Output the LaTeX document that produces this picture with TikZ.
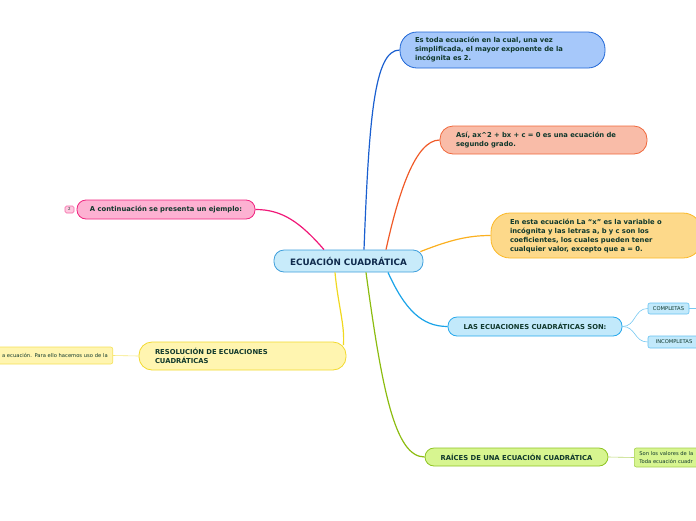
\documentclass[tikz,border=0pt]{standalone}
\usepackage{fontspec}
\setmainfont{DejaVu Sans}
\usetikzlibrary{calc}
\definecolor{txt}{HTML}{10382C}
\definecolor{ctxt}{HTML}{0F2A4C}
\definecolor{cfill}{HTML}{C8EBFA}\definecolor{cdraw}{HTML}{3F9FDC}
\definecolor{bfill}{HTML}{A6C8FA}\definecolor{bdraw}{HTML}{1F66D6}\definecolor{bline}{HTML}{1A5FD0}
\definecolor{sfill}{HTML}{F9BCA8}\definecolor{sdraw}{HTML}{F0683C}\definecolor{sline}{HTML}{F05A28}
\definecolor{ofill}{HTML}{FDD98A}\definecolor{odraw}{HTML}{FBB826}\definecolor{oline}{HTML}{FBB020}
\definecolor{lfill}{HTML}{C2E9FB}\definecolor{ldraw}{HTML}{25A8EC}\definecolor{lline}{HTML}{1AA3E8}
\definecolor{gfill}{HTML}{D7F590}\definecolor{gdraw}{HTML}{8EC422}\definecolor{gline}{HTML}{8CBC10}
\definecolor{yfill}{HTML}{FFF5B0}\definecolor{ydraw}{HTML}{F2D92E}\definecolor{yline}{HTML}{F0D820}
\definecolor{pfill}{HTML}{FDB1D2}\definecolor{pdraw}{HTML}{F0247F}\definecolor{pline}{HTML}{F01878}
\begin{document}
\begin{tikzpicture}[x=1pt,y=-1pt,
  box/.style={draw, line width=0.8pt, inner sep=0pt, text=txt,
    font=\bfseries\fontsize{6.8}{9}\selectfont},
  leftbox/.style={box, align=left},
  centbox/.style={box, align=center},
  small/.style={draw, line width=0.6pt, inner sep=0pt, text=txt, rounded corners=2pt,
    font=\fontsize{5.2}{7.5}\selectfont},
  branch/.style={line width=1.2pt},
  twig/.style={line width=0.6pt}
]
\useasboundingbox (0,0) rectangle (696,520);
\clip (0,0) rectangle (696,520);

% central
\node[centbox, fill=cfill, draw=cdraw, text=ctxt, rounded corners=10pt,
  minimum width=149pt, minimum height=22pt, font=\bfseries\fontsize{8.8}{10}\selectfont]
  (c) at (348.5,261) {ECUACIÓN CUADRÁTICA};

% branches
\node[leftbox, fill=bfill, draw=bdraw, rounded corners=17pt, inner xsep=15pt,
  text width=175pt, minimum height=36pt] (b) at (502.5,50)
  {Es toda ecuación en la cual, una vez\\simplificada, el mayor exponente de la\\incógnita es 2.};

\node[leftbox, fill=sfill, draw=sdraw, rounded corners=13pt, inner xsep=16pt,
  text width=175pt, minimum height=28pt] (s) at (543.5,140)
  {Así, ax\^{}2 + bx + c = 0 es una ecuación de\\segundo grado.};

\node[leftbox, fill=ofill, draw=odraw, rounded corners=19pt, inner xsep=19pt,
  text width=173pt, minimum height=45pt] (o) at (596.5,235.5)
  {En esta ecuación La ``x'' es la variable o\\incógnita y las letras a, b y c son los\\coeficientes, los cuales pueden tener\\cualquier valor, excepto que a = 0.};

\node[centbox, fill=lfill, draw=ldraw, rounded corners=9pt,
  minimum width=174pt, minimum height=19pt] (l) at (535,326.5)
  {LAS ECUACIONES CUADRÁTICAS SON:};

\node[centbox, fill=gfill, draw=gdraw, rounded corners=9pt,
  minimum width=183pt, minimum height=18pt] (g) at (516.5,457)
  {RAÍCES DE UNA ECUACIÓN CUADRÁTICA};

\node[leftbox, fill=yfill, draw=ydraw, rounded corners=13pt, inner xsep=16pt,
  text width=175pt, minimum height=28pt] (r) at (242.5,356)
  {RESOLUCIÓN DE ECUACIONES\\CUADRÁTICAS};

\node[centbox, fill=pfill, draw=pdraw, rounded corners=9pt,
  minimum width=178pt, minimum height=19pt] (p) at (166,209.5)
  {A continuación se presenta un ejemplo:};

% small nodes
\node[small, fill=lfill, draw=ldraw!70, minimum width=41pt, minimum height=11pt]
  (lc) at (668.5,308.5) {COMPLETAS};
\node[small, fill=lfill, draw=ldraw!70, minimum width=52pt, minimum height=12pt]
  (li) at (674,342) {INCOMPLETAS};
\coordinate (lcx) at (700,308.5);

\node[small, fill=gfill, draw=gdraw!80, anchor=west, align=left, inner xsep=5pt,
  text width=75pt, minimum height=19pt] (gs) at (634,457.5)
  {Son los valores de la\\Toda ecuación cuadr};

\node[small, fill=yfill, draw=ydraw!80, anchor=east, align=right, inner xsep=5pt,
  text width=112pt, minimum height=17pt] (rs) at (113,355.5)
  {a ecuación. Para ello hacemos uso de la};

\node[small, fill=pfill!70, draw=pdraw!70, rounded corners=1.5pt, minimum width=9pt,
  minimum height=7pt, font=\fontsize{4}{5}\selectfont] (p2) at (69.5,209.5) {2};

% connectors
\draw[branch, bline] ($(c.north)+(15.5,0)$) .. controls (369,120) and (374,50) .. (b.west);
\draw[branch, sline] ($(c.north)+(37.5,0)$) .. controls (398,195) and (415,140) .. (s.west);
\draw[branch, oline] ($(c.north east)+(-3,2)$) .. controls (450,240) and (468,235.5) .. (o.west);
\draw[branch, lline] ($(c.south)+(39.5,0)$) .. controls (405,310) and (422,326.5) .. (l.west);
\draw[branch, gline] ($(c.south)+(17.5,0)$) .. controls (382,390) and (395,457) .. (g.west);
\draw[branch, yline] ($(c.south)+(-13.5,0)$) .. controls (338,305) and (345,325) .. ($(r.east)+(-3,-11)$);
\draw[branch, pline] ($(c.north)+(-24.5,0)$) .. controls (300,222) and (282,209.5) .. (p.east);

\draw[twig, lline!60] (l.east) .. controls (636,326.5) and (634,308.5) .. (lc.west);
\draw[twig, lline!60] (l.east) .. controls (636,326.5) and (634,342) .. (li.west);
\draw[twig, lline!60] (lc.east) -- (lcx);
\draw[twig, gline!60] (g.east) -- (gs.west);
\draw[twig, yline!60] (r.west) -- (rs.east);
\end{tikzpicture}
\end{document}
